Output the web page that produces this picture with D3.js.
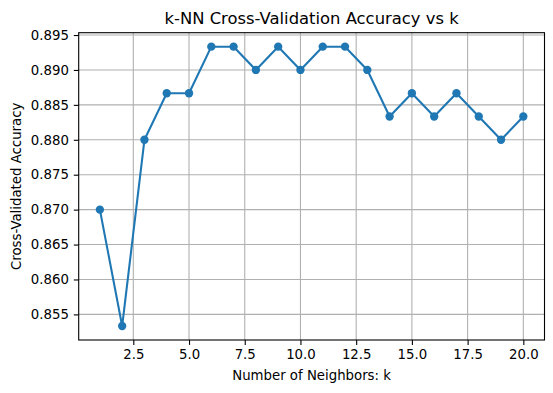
<!DOCTYPE html>
<html><head><meta charset="utf-8">
<script src="https://cdn.jsdelivr.net/npm/d3@7"></script>
<style>
body{margin:0;background:#fff;}
svg{display:block;font-family:"DejaVu Sans",sans-serif;}
</style></head>
<body>
<script>
const kValues = [1,2,3,4,5,6,7,8,9,10,11,12,13,14,15,16,17,18,19,20];
const accuracy = [0.87,0.853333,0.88,0.886667,0.886667,0.893333,0.893333,0.89,0.893333,0.89,0.893333,0.893333,0.89,0.883333,0.886667,0.883333,0.886667,0.883333,0.88,0.883333];
const xTicks = [2.5,5.0,7.5,10.0,12.5,15.0,17.5,20.0];
const yTicks = [0.855,0.860,0.865,0.870,0.875,0.880,0.885,0.890,0.895];
const title = "k-NN Cross-Validation Accuracy vs k";
const xLabel = "Number of Neighbors: k";
const yLabel = "Cross-Validated Accuracy";

const W=553,H=393;
const L=78.7,R=544.5,T=32.7,B=340;
const svg=d3.select("body").append("svg").attr("width",W).attr("height",H);
svg.append("rect").attr("width",W).attr("height",H).attr("fill","#fff");

const xmin=d3.min(kValues),xmax=d3.max(kValues);
const xpad=(xmax-xmin)*0.05;
const ymin=d3.min(accuracy),ymax=d3.max(accuracy);
const ypad=(ymax-ymin)*0.05;
const x=d3.scaleLinear().domain([xmin-xpad,xmax+xpad]).range([L,R]);
const y=d3.scaleLinear().domain([ymin-ypad,ymax+ypad]).range([B,T]);

// grid
const g=svg.append("g");
g.selectAll(".gx").data(xTicks).enter().append("line")
 .attr("x1",d=>x(d)).attr("x2",d=>x(d)).attr("y1",T).attr("y2",B)
 .attr("stroke","#b0b0b0").attr("stroke-width",1.1);
g.selectAll(".gy").data(yTicks).enter().append("line")
 .attr("y1",d=>y(d)).attr("y2",d=>y(d)).attr("x1",L).attr("x2",R)
 .attr("stroke","#b0b0b0").attr("stroke-width",1.1);

// axes
const fs="13.3px";
const xAxis=svg.append("g").attr("transform",`translate(0,${B})`)
 .call(d3.axisBottom(x).tickValues(xTicks).tickFormat(d3.format(".1f")).tickSizeOuter(0).tickSize(4.9).tickPadding(4.9));
const yAxis=svg.append("g").attr("transform",`translate(${L},0)`)
 .call(d3.axisLeft(y).tickValues(yTicks).tickFormat(d3.format(".3f")).tickSizeOuter(0).tickSize(4.9).tickPadding(4.9));
[xAxis,yAxis].forEach(a=>{
 a.select(".domain").remove();
 a.selectAll("line").attr("stroke","#000").attr("stroke-width",1.1);
 a.selectAll("text").attr("font-family","DejaVu Sans").attr("font-size",fs).attr("fill","#000");
});

// line and markers
const line=d3.line().x((d,i)=>x(kValues[i])).y(d=>y(d));
svg.append("path").datum(accuracy).attr("d",line).attr("fill","none")
 .attr("stroke","#1f77b4").attr("stroke-width",2.08).attr("stroke-linejoin","round");
svg.selectAll(".pt").data(accuracy).enter().append("circle")
 .attr("cx",(d,i)=>x(kValues[i])).attr("cy",d=>y(d)).attr("r",4.17).attr("fill","#1f77b4");

// spines
svg.append("rect").attr("x",L).attr("y",T).attr("width",R-L).attr("height",B-T)
 .attr("fill","none").attr("stroke","#000").attr("stroke-width",1.1);

// labels
svg.append("text").attr("x",(L+R)/2).attr("y",T-8.3).attr("text-anchor","middle")
 .attr("font-size","16.4px").text(title);
svg.append("text").attr("x",(L+R)/2).attr("y",380).attr("text-anchor","middle")
 .attr("font-size",fs).text(xLabel);
svg.append("text").attr("transform",`translate(21,${(T+B)/2}) rotate(-90)`).attr("text-anchor","middle")
 .attr("font-size",fs).text(yLabel);
</script>
</body></html>
